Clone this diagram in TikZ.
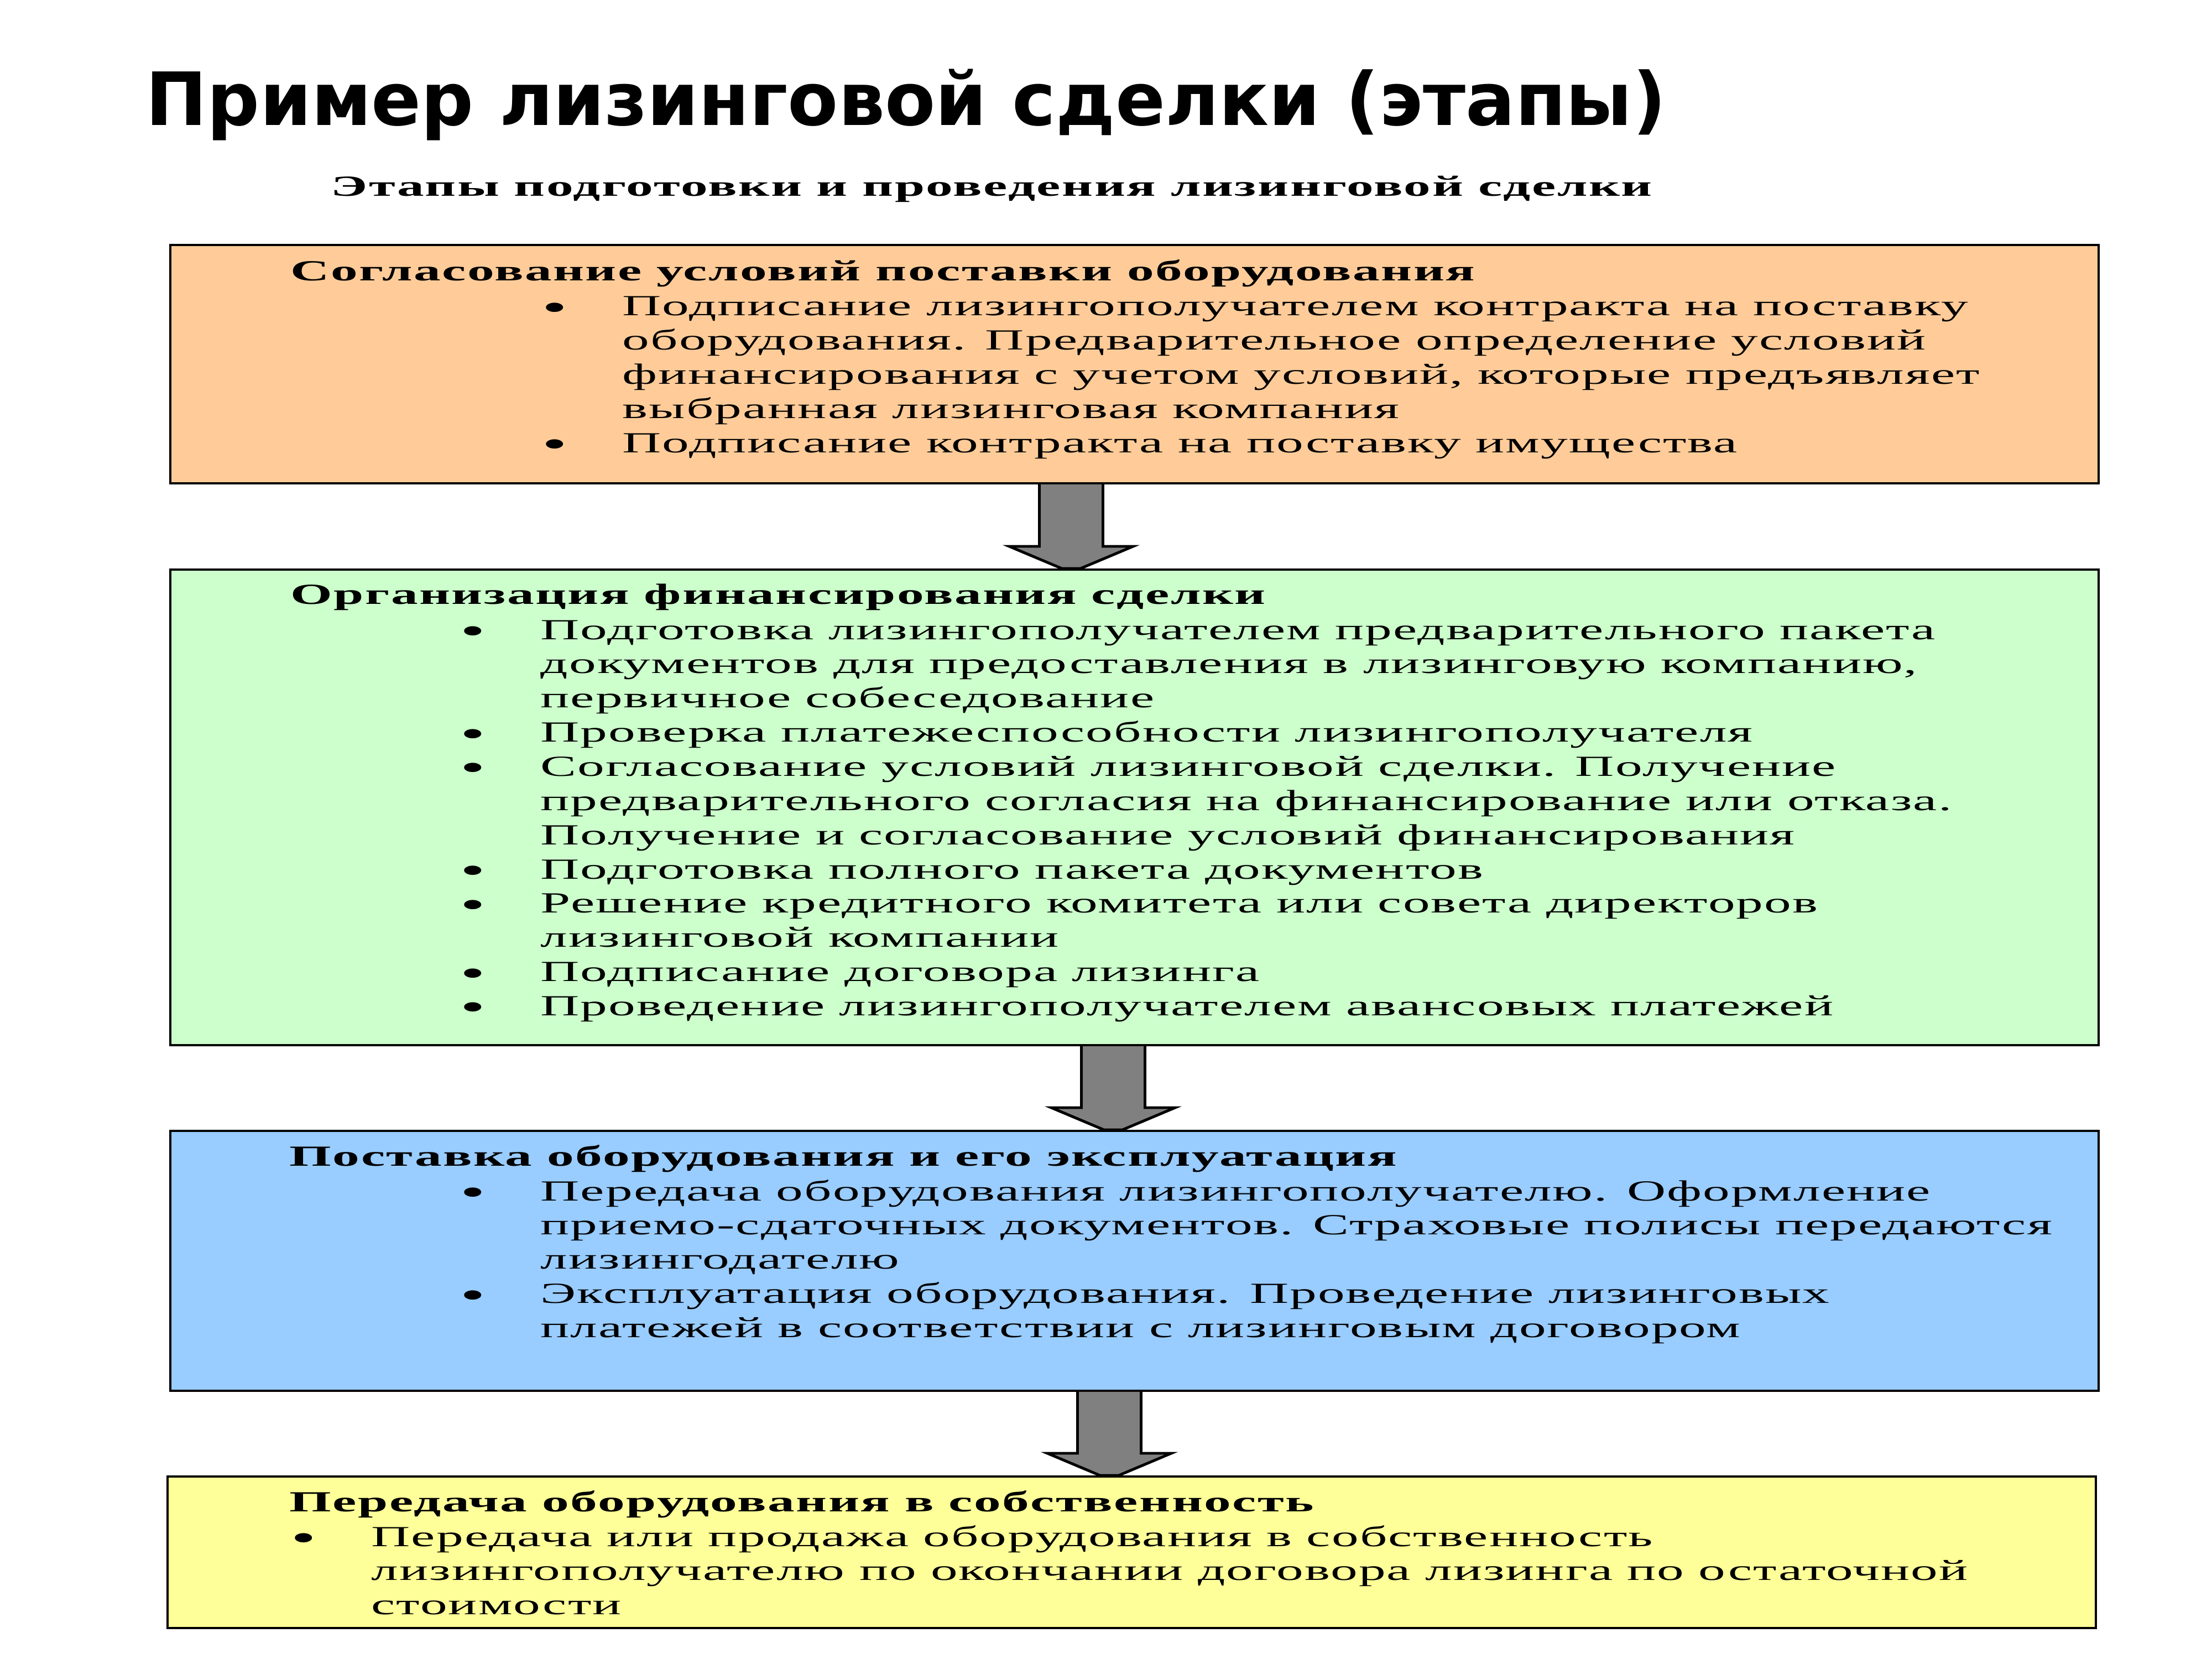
\documentclass[tikz,border=0pt]{standalone}
\usepackage{fontspec}
\setmainfont{Liberation Serif}
\newfontfamily\stagefont[FakeStretch=1.845,LetterSpace=4,BoldFeatures={LetterSpace=4.8}]{Liberation Serif}
\newfontfamily\titlefont{DejaVu Sans}
\usetikzlibrary{calc}

\definecolor{boxorange}{HTML}{FFCC99}
\definecolor{boxgreen}{HTML}{CCFFCC}
\definecolor{boxblue}{HTML}{99CCFF}
\definecolor{boxyellow}{HTML}{FFFF99}
\definecolor{arrowgray}{HTML}{808080}

\tikzset{
  stage/.style={draw=black, line width=1.1pt, anchor=north west, minimum width=34.87cm, inner sep=0pt},
  stagehead/.style={anchor=base west, inner sep=0pt, font=\stagefont\bfseries\fontsize{15}{17.6}\selectfont},
  stagelist/.style={anchor=base west, inner sep=0pt, font=\stagefont\fontsize{15}{17.6}\selectfont},
  stagearrow/.style={fill=arrowgray, draw=black, line width=1.4pt, line join=miter}
}
\newcommand{\bigdot}{\raisebox{-2.4pt}{\fontsize{20}{17}\selectfont\textbullet}}

\begin{document}
\begin{tikzpicture}
\path[use as bounding box, fill=white] (0,0) rectangle (40,-30);

% title
\node[anchor=base west, inner sep=0pt, font=\titlefont\bfseries\fontsize{37.8}{44}\selectfont] (title) at (2.63,-2.27) {Пример лизинговой сделки (этапы)};
\node[stagehead] (subtitle) at (5.98,-3.55) {Этапы подготовки и проведения лизинговой сделки};

% stages
\node[stage, fill=boxorange, minimum height=4.31cm] (s1) at (3.06,-4.41) {};
\node[stage, fill=boxgreen, minimum height=8.60cm] (s2) at (3.06,-10.28) {};
\node[stage, fill=boxblue, minimum height=4.70cm] (s3) at (3.06,-20.43) {};
\node[stage, fill=boxyellow, minimum height=2.74cm] (s4) at (3.01,-26.68) {};

% arrows between stages
\foreach \from/\to/\x in {s1/s2/16.31, s2/s3/17.07, s3/s4/17.0} {
  \coordinate (a) at ([xshift=\x cm]\from.south west);
  \coordinate (b) at (a |- \to.north);
  \draw[stagearrow] ([xshift=-0.575cm]a) -- ([xshift=-0.575cm,yshift=0.4cm]b) -- ([xshift=-1.12cm,yshift=0.4cm]b)
    -- ([xshift=-0.17cm]b) -- ([xshift=0.17cm]b) -- ([xshift=1.12cm,yshift=0.4cm]b)
    -- ([xshift=0.575cm,yshift=0.4cm]b) -- ([xshift=0.575cm]a);
}

% texts
\node[stagehead] (h1) at ([shift={(2.19,-0.67)}]s1.north west) {Согласование условий поставки оборудования};
\node[stagelist] (l1) at ([shift={(6.74,-1.30)}]s1.north west) {\begin{tabular}[t]{@{}p{1.45cm}@{}l@{}}
\bigdot & Подписание лизингополучателем контракта на поставку\\
 & оборудования. Предварительное определение условий\\
 & финансирования с учетом условий, которые предъявляет\\
 & выбранная лизинговая компания\\
\bigdot & Подписание контракта на поставку имущества
\end{tabular}};

\node[stagehead] (h2) at ([shift={(2.19,-0.65)}]s2.north west) {Организация финансирования сделки};
\node[stagelist] (l2) at ([shift={(5.26,-1.28)}]s2.north west) {\begin{tabular}[t]{@{}p{1.45cm}@{}l@{}}
\bigdot & Подготовка лизингополучателем предварительного пакета\\
 & документов для предоставления в лизинговую компанию,\\
 & первичное собеседование\\
\bigdot & Проверка платежеспособности лизингополучателя\\
\bigdot & Согласование условий лизинговой сделки. Получение\\
 & предварительного согласия на финансирование или отказа.\\
 & Получение и согласование условий финансирования\\
\bigdot & Подготовка полного пакета документов\\
\bigdot & Решение кредитного комитета или совета директоров\\
 & лизинговой компании\\
\bigdot & Подписание договора лизинга\\
\bigdot & Проведение лизингополучателем авансовых платежей
\end{tabular}};

\node[stagehead] (h3) at ([shift={(2.17,-0.65)}]s3.north west) {Поставка оборудования и его эксплуатация};
\node[stagelist] (l3) at ([shift={(5.26,-1.28)}]s3.north west) {\begin{tabular}[t]{@{}p{1.45cm}@{}l@{}}
\bigdot & Передача оборудования лизингополучателю. Оформление\\
 & приемо-сдаточных документов. Страховые полисы передаются\\
 & лизингодателю\\
\bigdot & Эксплуатация оборудования. Проведение лизинговых\\
 & платежей в соответствии с лизинговым договором
\end{tabular}};

\node[stagehead] (h4) at ([shift={(2.22,-0.65)}]s4.north west) {Передача оборудования в собственность};
\node[stagelist] (l4) at ([shift={(2.25,-1.28)}]s4.north west) {\begin{tabular}[t]{@{}p{1.45cm}@{}l@{}}
\bigdot & Передача или продажа оборудования в собственность\\
 & лизингополучателю по окончании договора лизинга по остаточной\\
 & стоимости
\end{tabular}};
\end{tikzpicture}
\end{document}
